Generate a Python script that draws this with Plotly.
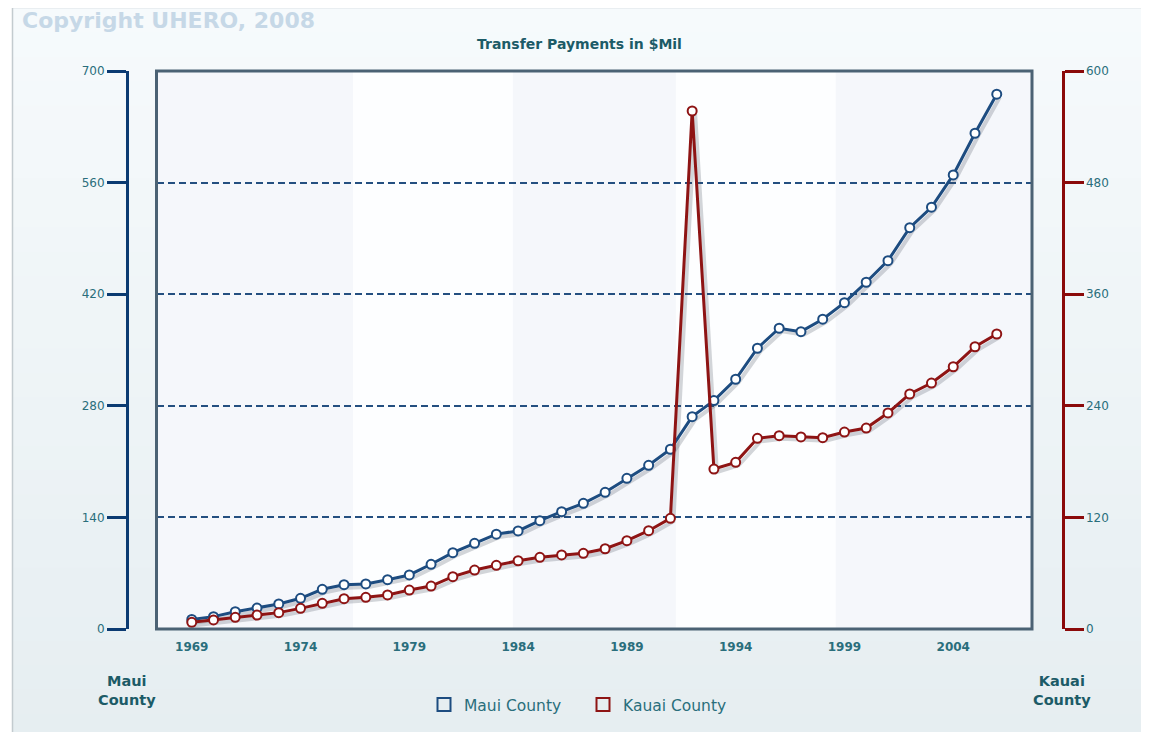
import plotly.graph_objects as go

# ---- data ----
years = list(range(1969, 2007))
maui = [12, 15.5, 21.7, 26.3, 31.4, 38.5, 49.8, 55.6, 56.5, 61.9, 67.8, 81.2, 95.8, 107.5,
        119, 123, 135.9, 147.2, 157.7, 171.5, 189, 205.4, 225.5, 266.4, 286.5, 313.3,
        352.2, 377.3, 373, 388.6, 409.4, 435, 462.1, 503.5, 529.1, 569.6, 621.9, 670.9]
kauai = [7.2, 9.7, 12.6, 15, 17.6, 22.2, 27.6, 32.6, 34.1, 36.6, 41.9, 46.2, 56.3, 63.4,
         68.5, 73.4, 77.1, 79.6, 81.4, 86.3, 95, 105.7, 119, 557, 172, 179.2,
         205, 207.9, 206.5, 205.7, 211.8, 216.1, 232.3, 252.7, 264.5, 282, 303.5, 317.2]
x_ticks = [1969, 1974, 1979, 1984, 1989, 1994, 1999, 2004]
left_ticks = [0, 140, 280, 420, 560, 700]
right_ticks = [0, 120, 240, 360, 480, 600]
series_names = ["Maui County", "Kauai County"]
title_text = "Transfer Payments in $Mil"

# ---- styles / layout helpers (page pixel coordinates) ----
OFF = 8  # page body margin
W, H = 1149 - OFF, 740 - 2 * OFF
PLOT_TOP, PLOT_BOTTOM = 71, 629
ML, MR = 0, 0
MT, MB = PLOT_TOP - OFF, OFF + H - PLOT_BOTTOM
PW, PH = W - ML - MR, PLOT_BOTTOM - PLOT_TOP
def px(x):
    return (x - OFF - ML) / PW
def py(y):
    return (PLOT_BOTTOM - y) / PH

BLUE = "#1d4c80"
RED = "#8e1414"
NAVY = "#0b3b72"
DARKRED = "#8b0a0a"
TEAL = "#2a6e7c"
DTEAL = "#1c5b67"
FONT = "DejaVu Sans"
SHADOW = "rgba(60,70,80,0.22)"

xd0, xd1 = px(156.5), px(1032)
XR = [1967.38, 2007.62]
YL = [0, 700]
YR = [0, 600]
# shadow offset (pixels) -> axis range shift
SH = 3
x_per_px = (XR[1] - XR[0]) / (1032 - 156.5)
XS = [XR[0] - SH * x_per_px, XR[1] - SH * x_per_px]
YLS = [YL[0] + SH * (YL[1] - YL[0]) / PH, YL[1] + SH * (YL[1] - YL[0]) / PH]
YRS = [YR[0] + SH * (YR[1] - YR[0]) / PH, YR[1] + SH * (YR[1] - YR[0]) / PH]

fig = go.Figure()
# soft drop shadows (drawn on hidden, slightly shifted axes)
fig.add_trace(go.Scatter(x=years, y=maui, mode="lines", line=dict(color=SHADOW, width=4),
                         hoverinfo="skip", showlegend=False, xaxis="x", yaxis="y"))
fig.add_trace(go.Scatter(x=years, y=kauai, mode="lines", line=dict(color=SHADOW, width=4),
                         hoverinfo="skip", showlegend=False, xaxis="x", yaxis="y2"))
# main series
fig.add_trace(go.Scatter(
    x=years, y=maui, name=series_names[0], mode="lines+markers",
    line=dict(color=BLUE, width=3),
    marker=dict(symbol="circle", size=9, color="white", line=dict(color=BLUE, width=2)),
    showlegend=False, xaxis="x2", yaxis="y3"))
fig.add_trace(go.Scatter(
    x=years, y=kauai, name=series_names[1], mode="lines+markers",
    line=dict(color=RED, width=3),
    marker=dict(symbol="circle", size=9, color="white", line=dict(color=RED, width=2)),
    showlegend=False, xaxis="x2", yaxis="y4"))
# legend entries (square outlines)
for nm, col in zip(series_names, [BLUE, RED]):
    fig.add_trace(go.Scatter(
        x=[None], y=[None], name=nm, mode="markers",
        marker=dict(symbol="square-open", size=13, color=col, line=dict(color=col, width=2)),
        showlegend=True, xaxis="x2", yaxis="y3"))

shapes = []
# panel background stepped gradient
top_c = (0xf6, 0xfa, 0xfc)
bot_c = (0xe6, 0xee, 0xf1)
N = 30
y_top, y_bot = 8, 738
for i in range(N):
    t = i / (N - 1)
    c = tuple(round(top_c[k] + (bot_c[k] - top_c[k]) * t) for k in range(3))
    ya = y_top + (y_bot - y_top) * i / N
    yb = y_top + (y_bot - y_top) * (i + 1) / N + 1
    shapes.append(dict(type="rect", xref="paper", yref="paper", layer="below",
                       x0=px(12), x1=px(1160), y0=py(yb), y1=py(ya),
                       fillcolor="rgb(%d,%d,%d)" % c, line=dict(width=0)))
# panel border
shapes.append(dict(type="rect", xref="paper", yref="paper", layer="below",
                   x0=px(12.5), x1=px(1170), y0=py(738), y1=py(7.5),
                   fillcolor="rgba(0,0,0,0)", line=dict(color="#c3cbcf", width=1.5)))
# plot area background
shapes.append(dict(type="rect", xref="paper", yref="paper", layer="below",
                   x0=xd0, x1=xd1, y0=0, y1=1, fillcolor="#fdfeff", line=dict(width=0)))
# alternating vertical bands
band_edges = [1967.38, 1976.41, 1983.76, 1991.25, 1998.6, 2007.62]
for i in range(0, len(band_edges) - 1, 2):
    shapes.append(dict(type="rect", xref="x2", yref="paper", layer="below",
                       x0=band_edges[i], x1=band_edges[i + 1], y0=0, y1=1,
                       fillcolor="#f5f7fb", line=dict(width=0)))
# frame
shapes.append(dict(type="rect", xref="paper", yref="paper", layer="above",
                   x0=xd0, x1=xd1, y0=0, y1=1, fillcolor="rgba(0,0,0,0)",
                   line=dict(color="#4b6274", width=3)))

annotations = [
    dict(text="Copyright UHERO, 2008", xref="paper", yref="paper", x=px(20), y=py(20.5),
         xanchor="left", yanchor="middle", showarrow=False,
         font=dict(family=FONT, size=22, color="#c6d8e7", weight="bold")),
    dict(text=title_text, xref="paper", yref="paper", x=px(579), y=py(44),
         xanchor="center", yanchor="middle", showarrow=False,
         font=dict(family=FONT, size=14, color=DTEAL, weight="bold")),
    dict(text="Maui<br>County", xref="paper", yref="paper", x=px(127), y=py(690),
         xanchor="center", yanchor="middle", showarrow=False, align="center",
         font=dict(family=FONT, size=14.5, color=DTEAL, weight="bold")),
    dict(text="Kauai<br>County", xref="paper", yref="paper", x=px(1062), y=py(690),
         xanchor="center", yanchor="middle", showarrow=False, align="center",
         font=dict(family=FONT, size=14.5, color=DTEAL, weight="bold")),
]

hidden = dict(visible=False, showgrid=False, zeroline=False, fixedrange=True)

fig.update_layout(
    width=W, height=H,
    margin=dict(l=ML, r=MR, t=MT, b=MB, autoexpand=False),
    paper_bgcolor="white", plot_bgcolor="rgba(0,0,0,0)",
    font=dict(family=FONT, color=TEAL),
    shapes=shapes, annotations=annotations,
    # hidden shadow axes
    xaxis=dict(domain=[xd0, xd1], range=XS, anchor="y", **hidden),
    yaxis=dict(range=YLS, anchor="x", **hidden),
    yaxis2=dict(range=YRS, anchor="x", overlaying="y", **hidden),
    # visible axes
    xaxis2=dict(domain=[xd0, xd1], range=XR, tickvals=x_ticks, overlaying="x", anchor="y3",
                side="bottom",
                showgrid=False, zeroline=False, showline=False, ticks="",
                ticklabelstandoff=9,
                tickfont=dict(family=FONT, size=12, color=TEAL, weight="bold")),
    yaxis3=dict(range=YL, tickvals=left_ticks, anchor="free", position=px(127),
                overlaying="y", side="left",
                showline=True, linecolor=NAVY, linewidth=3,
                ticks="outside", ticklen=19, tickwidth=3, tickcolor=NAVY,
                showgrid=True, gridcolor="#244f80", gridwidth=1.5, griddash="7px,4px",
                zeroline=False,
                tickfont=dict(family=FONT, size=12, color=TEAL)),
    yaxis4=dict(range=YR, tickvals=right_ticks, anchor="free", position=px(1062.5),
                overlaying="y", side="right",
                showline=True, linecolor=DARKRED, linewidth=3,
                ticks="outside", ticklen=19, tickwidth=3, tickcolor=DARKRED,
                showgrid=False, zeroline=False,
                tickfont=dict(family=FONT, size=12, color=TEAL)),
    legend=dict(orientation="h", x=px(424), y=py(705), xanchor="left", yanchor="middle",
                bgcolor="rgba(0,0,0,0)", itemwidth=30, entrywidth=114,
                font=dict(family=FONT, size=15.5, color=TEAL)),
)

fig.write_html("out.html")
